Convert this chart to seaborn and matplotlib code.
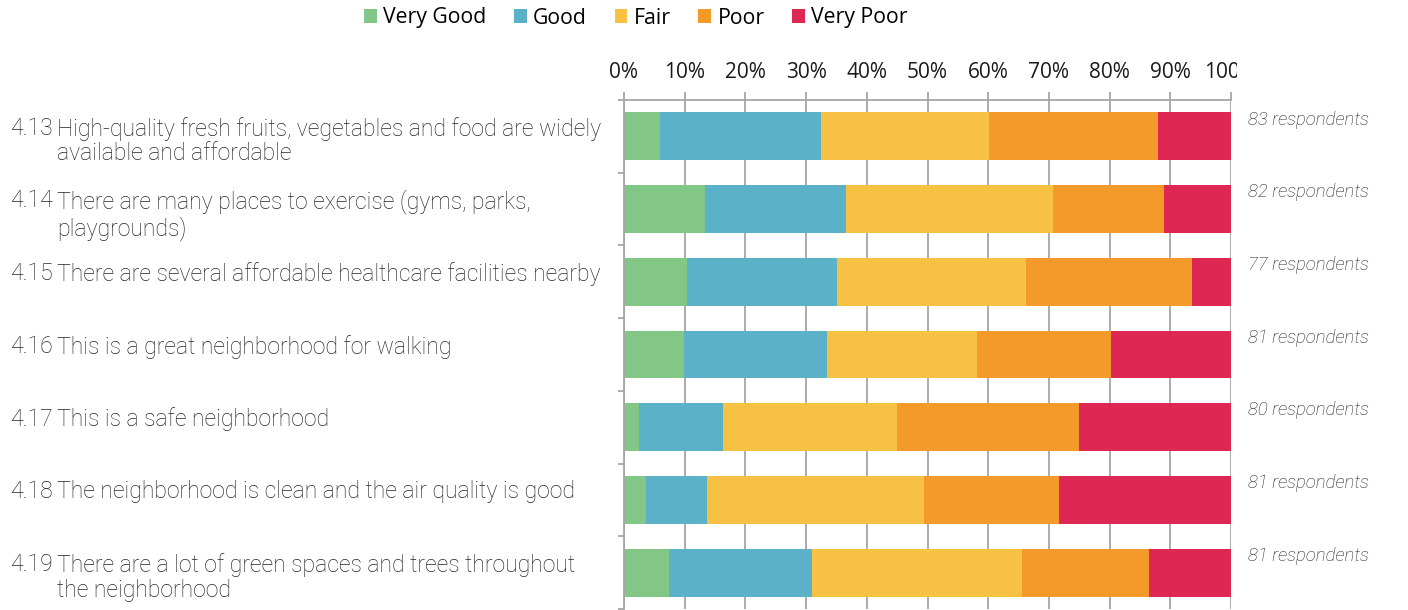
import matplotlib
matplotlib.use("Agg")
import matplotlib.pyplot as plt
import seaborn as sns
import numpy as np
import pandas as pd
from matplotlib.patches import Patch
from matplotlib.transforms import Bbox, TransformedBbox, blended_transform_factory

# question numbers and wording (line breaks as in the original)
numbers = ["4.13", "4.14", "4.15", "4.16", "4.17", "4.18", "4.19"]
questions = [
    "High-quality fresh fruits, vegetables and food are widely\navailable and affordable",
    "There are many places to exercise (gyms, parks,\nplaygrounds)",
    "There are several affordable healthcare facilities nearby",
    "This is a great neighborhood for walking",
    "This is a safe neighborhood",
    "The neighborhood is clean and the air quality is good",
    "There are a lot of green spaces and trees throughout\nthe neighborhood",
]
respondents = [83, 82, 77, 81, 80, 81, 81]

ratings = ["Very Good", "Good", "Fair", "Poor", "Very Poor"]
colors = ["#82C785", "#5BB1C8", "#F7C143", "#F39A2B", "#DE2752"]

# percent of respondents per rating
very_good = [6.0, 13.4, 10.4, 9.9, 2.5, 3.7, 7.4]
good = [26.5, 23.2, 24.7, 23.5, 13.8, 9.9, 23.5]
fair = [27.7, 34.1, 31.2, 24.7, 28.7, 35.8, 34.6]
poor = [27.7, 18.3, 27.3, 22.2, 30.0, 22.2, 21.0]
very_poor = [12.1, 11.0, 6.4, 19.7, 25.0, 28.4, 13.5]

df = pd.DataFrame({"q": numbers, "Very Good": very_good, "Good": good,
                   "Fair": fair, "Poor": poor, "Very Poor": very_poor})
cum = df[ratings].cumsum(axis=1)
cum["q"] = df["q"]

text_col = "#262626"
grid_col = "#a6a6a6"

fig = plt.figure(figsize=(14.08, 6.10), dpi=100)
ax = fig.add_axes([624 / 1408, 1 - 609 / 610, (1231 - 624) / 1408, (609 - 100) / 610])

# stacked bars: draw cumulative totals from the back to the front
for rating, col in reversed(list(zip(ratings, colors))):
    sns.barplot(data=cum, x=rating, y="q", color=col, orient="h",
                width=0.66, linewidth=0, saturation=1, ax=ax)

ax.set_xlim(0, 100)
ax.set_ylim(6.5, -0.5)
ax.set_xlabel("")
ax.set_ylabel("")

# top axis with percent labels
ax.xaxis.tick_top()
ax.set_xticks(range(0, 101, 10))
ax.set_xticklabels([f"{v}%" for v in range(0, 101, 10)],
                   fontsize=15, family="Open Sans", color="#1a1a1a")
ax.tick_params(axis="x", which="major", length=6, width=1.3, color=grid_col, pad=6)
ax.grid(axis="x", color=grid_col, linewidth=1.3)
ax.set_axisbelow(True)

# the last label is cut off at the chart edge, as in the source
clip = TransformedBbox(Bbox([[0, 0], [1237 / 1408, 1]]), fig.transFigure)
for lbl in ax.get_xticklabels():
    lbl.set_clip_box(clip)
    lbl.set_clip_on(True)

ax.set_yticks([])
ax.set_yticks(np.arange(-0.5, 7, 1), minor=True)
ax.tick_params(axis="y", which="minor", length=4, width=1.3, color=grid_col)

for side in ["right", "bottom"]:
    ax.spines[side].set_visible(False)
for side in ["top", "left"]:
    ax.spines[side].set_color(grid_col)
    ax.spines[side].set_linewidth(1.3)

# question labels on the left
tr = blended_transform_factory(fig.transFigure, ax.transData)
for i, (num, q) in enumerate(zip(numbers, questions)):
    ax.text(10 / 1408, i - 0.27, num, transform=tr, va="top", ha="left",
            fontsize=16.6, family="Roboto", fontweight="light", color=text_col,
            linespacing=1.1)
    ax.text(57 / 1408, i - 0.27, q, transform=tr, va="top", ha="left",
            fontsize=16.6, family="Roboto", fontweight="light", color=text_col,
            linespacing=1.1)

# respondent counts on the right
for i, n in enumerate(respondents):
    ax.text(102.8, i - 0.23, f"{n} respondents", va="center", ha="left",
            fontsize=13.3, family="Roboto", fontweight="light", style="italic",
            color="#1f1f1f", clip_on=False)

handles = [Patch(facecolor=c, edgecolor="none") for c in colors]
fig.legend(handles, ratings, loc="center", bbox_to_anchor=(636 / 1408, 1 - 18 / 610),
           ncol=5, frameon=False, handlelength=0.6, handleheight=0.6,
           handletextpad=0.3, columnspacing=1.3,
           prop={"family": "Open Sans", "size": 15.3})

fig.savefig("out.png", dpi=100)
